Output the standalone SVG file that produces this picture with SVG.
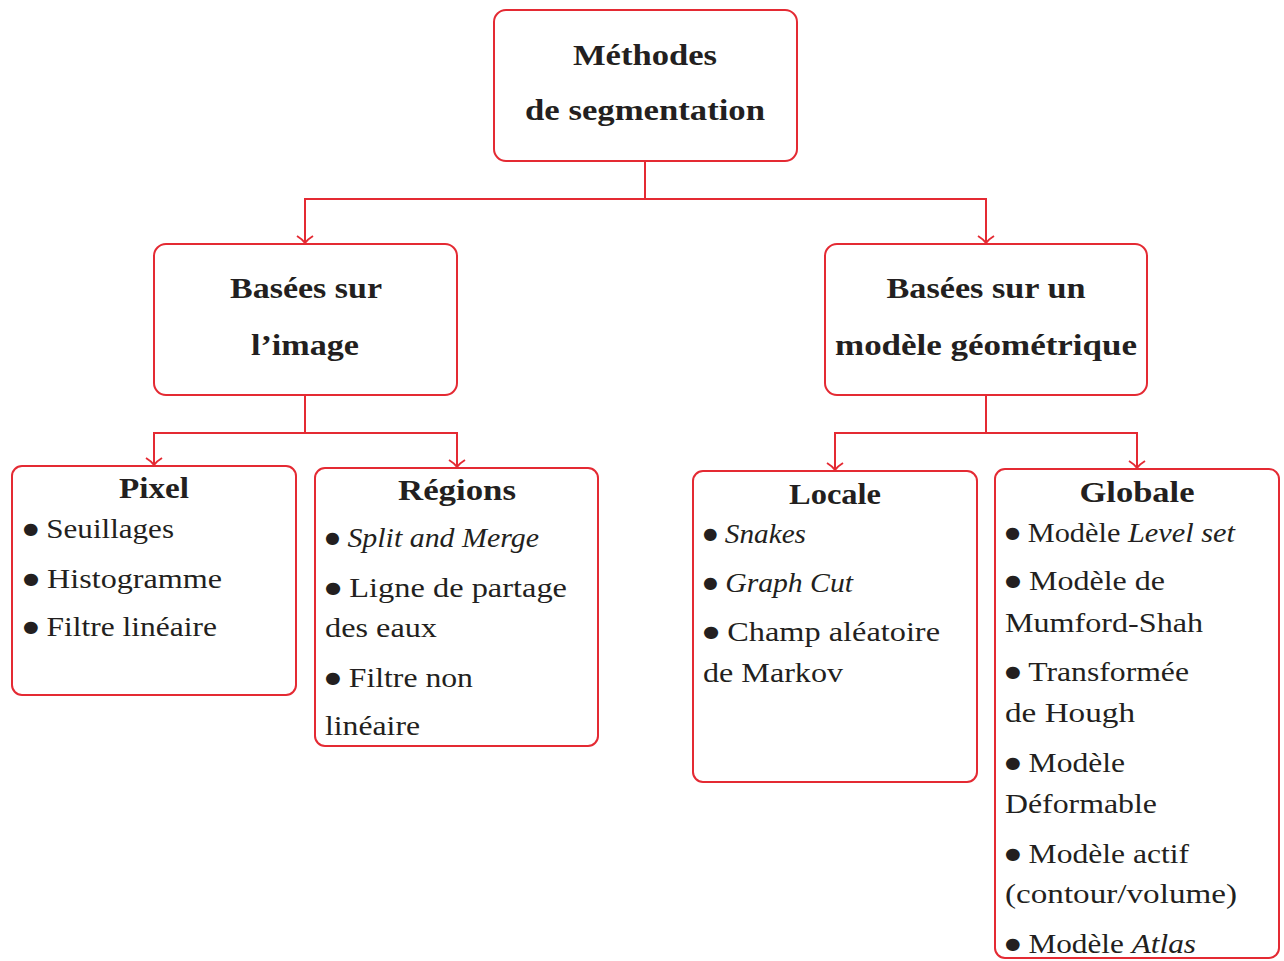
<svg xmlns="http://www.w3.org/2000/svg" width="1284" height="961" viewBox="0 0 1284 961">
<defs>
<marker id="arr" markerWidth="20" markerHeight="14" refX="8" refY="11" orient="0" markerUnits="userSpaceOnUse" overflow="visible">
<path d="M0,4 Q5,7 8,11 Q11,7 16,4" fill="none" stroke="#e42a33" stroke-width="2"/>
</marker>
<style>
.box{fill:#fff;stroke:#e42a33;stroke-width:2}
.ln{fill:none;stroke:#e42a33;stroke-width:2}
text{font-family:"Liberation Serif","DejaVu Serif",serif;fill:#231f20}
.t{font-size:30px;font-weight:bold;text-anchor:middle}
.h{font-size:29px;font-weight:bold;text-anchor:middle}
.b{font-size:28px}
.i{font-style:italic}
.bu{font-family:"DejaVu Sans",sans-serif;font-size:16px}
</style>
</defs>
<g id="connectors">
<path class="ln" d="M645,161 V199 H305 V243" marker-end="url(#arr)"/>
<path class="ln" d="M645,199 H986 V243" marker-end="url(#arr)"/>
<path class="ln" d="M305,395 V433 H154 V465" marker-end="url(#arr)"/>
<path class="ln" d="M305,433 H457 V467" marker-end="url(#arr)"/>
<path class="ln" d="M986,395 V433 H835 V470" marker-end="url(#arr)"/>
<path class="ln" d="M986,433 H1137 V468" marker-end="url(#arr)"/>
</g>
<g id="root">
<rect class="box" x="494" y="10" width="303" height="151" rx="12"/>
<text class="t" x="645" y="65" textLength="144" lengthAdjust="spacingAndGlyphs">Méthodes</text>
<text class="t" x="645" y="120" textLength="240" lengthAdjust="spacingAndGlyphs">de segmentation</text>
</g>
<g id="image">
<rect class="box" x="154" y="244" width="303" height="151" rx="12"/>
<text class="t" x="306" y="298" textLength="152" lengthAdjust="spacingAndGlyphs">Basées sur</text>
<text class="t" x="305" y="355" textLength="108" lengthAdjust="spacingAndGlyphs">l’image</text>
</g>
<g id="geom">
<rect class="box" x="825" y="244" width="322" height="151" rx="12"/>
<text class="t" x="986" y="298" textLength="199" lengthAdjust="spacingAndGlyphs">Basées sur un</text>
<text class="t" x="986" y="355" textLength="302" lengthAdjust="spacingAndGlyphs">modèle géométrique</text>
</g>
<g id="pixel">
<rect class="box" x="12" y="466" width="284" height="229" rx="10"/>
<text class="h" x="154" y="498" textLength="70" lengthAdjust="spacingAndGlyphs">Pixel</text>
<text class="b" x="23" y="538" textLength="151" lengthAdjust="spacingAndGlyphs"><tspan class="bu" dy="-4">●</tspan><tspan dy="4"> Seuillages</tspan></text>
<text class="b" x="23" y="588" textLength="199" lengthAdjust="spacingAndGlyphs"><tspan class="bu" dy="-4">●</tspan><tspan dy="4"> Histogramme</tspan></text>
<text class="b" x="23" y="636" textLength="194" lengthAdjust="spacingAndGlyphs"><tspan class="bu" dy="-4">●</tspan><tspan dy="4"> Filtre linéaire</tspan></text>
</g>
<g id="regions">
<rect class="box" x="315" y="468" width="283" height="278" rx="10"/>
<text class="h" x="457" y="500" textLength="118" lengthAdjust="spacingAndGlyphs">Régions</text>
<text class="b" x="325" y="547" textLength="214" lengthAdjust="spacingAndGlyphs"><tspan class="bu" dy="-4">●</tspan><tspan dy="4"> </tspan><tspan class="i">Split and Merge</tspan></text>
<text class="b" x="325" y="597" textLength="242" lengthAdjust="spacingAndGlyphs"><tspan class="bu" dy="-4">●</tspan><tspan dy="4"> Ligne de partage</tspan></text>
<text class="b" x="325" y="637" textLength="112" lengthAdjust="spacingAndGlyphs">des eaux</text>
<text class="b" x="325" y="687" textLength="148" lengthAdjust="spacingAndGlyphs"><tspan class="bu" dy="-4">●</tspan><tspan dy="4"> Filtre non</tspan></text>
<text class="b" x="325" y="735" textLength="95" lengthAdjust="spacingAndGlyphs">linéaire</text>
</g>
<g id="locale">
<rect class="box" x="693" y="471" width="284" height="311" rx="10"/>
<text class="h" x="835" y="504" textLength="92" lengthAdjust="spacingAndGlyphs">Locale</text>
<text class="b" x="703" y="543" textLength="103" lengthAdjust="spacingAndGlyphs"><tspan class="bu" dy="-4">●</tspan><tspan dy="4"> </tspan><tspan class="i">Snakes</tspan></text>
<text class="b" x="703" y="592" textLength="150" lengthAdjust="spacingAndGlyphs"><tspan class="bu" dy="-4">●</tspan><tspan dy="4"> </tspan><tspan class="i">Graph Cut</tspan></text>
<text class="b" x="703" y="641" textLength="237" lengthAdjust="spacingAndGlyphs"><tspan class="bu" dy="-4">●</tspan><tspan dy="4"> Champ aléatoire</tspan></text>
<text class="b" x="703" y="682" textLength="140" lengthAdjust="spacingAndGlyphs">de Markov</text>
</g>
<g id="globale">
<rect class="box" x="995" y="469" width="284" height="489" rx="10"/>
<text class="h" x="1137" y="502" textLength="115" lengthAdjust="spacingAndGlyphs">Globale</text>
<text class="b" x="1005" y="542" textLength="230" lengthAdjust="spacingAndGlyphs"><tspan class="bu" dy="-4">●</tspan><tspan dy="4"> Modèle </tspan><tspan class="i">Level set</tspan></text>
<text class="b" x="1005" y="590" textLength="160" lengthAdjust="spacingAndGlyphs"><tspan class="bu" dy="-4">●</tspan><tspan dy="4"> Modèle de</tspan></text>
<text class="b" x="1005" y="632" textLength="198" lengthAdjust="spacingAndGlyphs">Mumford-Shah</text>
<text class="b" x="1005" y="681" textLength="184" lengthAdjust="spacingAndGlyphs"><tspan class="bu" dy="-4">●</tspan><tspan dy="4"> Transformée</tspan></text>
<text class="b" x="1005" y="722" textLength="130" lengthAdjust="spacingAndGlyphs">de Hough</text>
<text class="b" x="1005" y="772" textLength="120" lengthAdjust="spacingAndGlyphs"><tspan class="bu" dy="-4">●</tspan><tspan dy="4"> Modèle</tspan></text>
<text class="b" x="1005" y="813" textLength="152" lengthAdjust="spacingAndGlyphs">Déformable</text>
<text class="b" x="1005" y="863" textLength="184" lengthAdjust="spacingAndGlyphs"><tspan class="bu" dy="-4">●</tspan><tspan dy="4"> Modèle actif</tspan></text>
<text class="b" x="1005" y="903" textLength="232" lengthAdjust="spacingAndGlyphs">(contour/volume)</text>
<text class="b" x="1005" y="953" textLength="191" lengthAdjust="spacingAndGlyphs"><tspan class="bu" dy="-4">●</tspan><tspan dy="4"> Modèle </tspan><tspan class="i">Atlas</tspan></text>
</g>
</svg>
